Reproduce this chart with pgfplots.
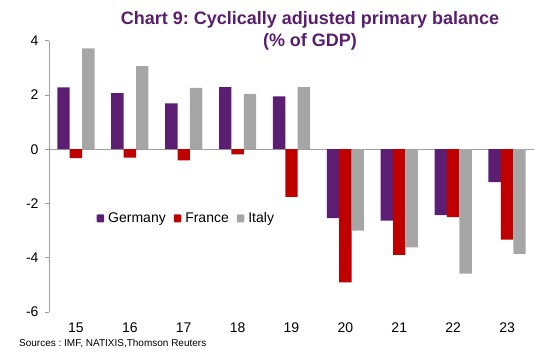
\documentclass[border=0pt]{standalone}
\usepackage{fontspec}
\setmainfont{Liberation Sans}
\usepackage{pgfplots}
\pgfplotsset{compat=1.18}
\definecolor{ger}{RGB}{91,30,114}
\definecolor{fra}{RGB}{192,0,0}
\definecolor{ita}{RGB}{166,166,166}
\definecolor{ttl}{RGB}{90,30,110}
\definecolor{axg}{RGB}{160,160,160}
\begin{document}
\frenchspacing
\begin{tikzpicture}
\path[use as bounding box] (-49bp,-45bp) rectangle (507bp,312bp);
\begin{axis}[
  at={(0,0)}, anchor=south west,
  scale only axis, width=485bp, height=271.3bp,
  xmin=-0.5, xmax=8.5, ymin=-6, ymax=4,
  clip=false,
  axis x line*=bottom, axis y line*=left,
  x axis line style={draw=none},
  y axis line style={axg, line width=0.8bp, -},
  ybar=0pt, bar width=12.4bp,
  xtick={0,...,8}, xticklabels={15,16,17,18,19,20,21,22,23},
  ytick={-6,-4,...,4},
  tick align=outside, major tick length=4bp,
  x tick style={draw=none},
  y tick style={axg, line width=0.8bp},
  ticklabel style={font=\fontsize{14bp}{16bp}\selectfont},
  /pgf/number format/assume math mode=true,
  xticklabel style={yshift=-3bp},
  yticklabel style={xshift=-3bp},
  legend columns=3,
  legend image code/.code={\fill[#1, rounded corners=1bp] (0bp,-4bp) rectangle (7.5bp,4bp);},
  legend style={at={(axis description cs:0.098,0.345)}, anchor=west, draw=none, fill=none,
    font=\fontsize{14bp}{16bp}\selectfont, inner sep=0pt,
    /tikz/every odd column/.style={column sep=2bp},
    /tikz/every even column/.style={column sep=6bp}},
]
\draw[axg, line width=0.8bp] (axis cs:-0.5,0) -- (axis cs:8.5,0);
\pgfplotsinvokeforeach{0.5,1.5,...,8.5}{\draw[axg, line width=0.8bp] (axis cs:#1,0) ++(0,-5bp) -- ++(0,10bp);}
\addplot[fill=ger, draw=none] coordinates {(0,2.28) (1,2.07) (2,1.69) (3,2.29) (4,1.95) (5,-2.54) (6,-2.63) (7,-2.43) (8,-1.21)};
\addplot[fill=fra, draw=none] coordinates {(0,-0.33) (1,-0.31) (2,-0.41) (3,-0.19) (4,-1.76) (5,-4.91) (6,-3.89) (7,-2.50) (8,-3.33)};
\addplot[fill=ita, draw=none] coordinates {(0,3.72) (1,3.06) (2,2.26) (3,2.04) (4,2.29) (5,-3.00) (6,-3.62) (7,-4.59) (8,-3.86)};
\legend{Germany,France,Italy}
\end{axis}
\node[align=center, text=ttl, font=\bfseries\fontsize{18bp}{22bp}\selectfont] at (261bp,281bp) {Chart 9: Cyclically adjusted primary balance\\(\% of GDP)};
\node[anchor=west, inner sep=0pt, font=\fontsize{10bp}{12bp}\selectfont] at (-30bp,-32bp) {Sources : IMF, NATIXIS,Thomson Reuters};
\end{tikzpicture}
\end{document}
